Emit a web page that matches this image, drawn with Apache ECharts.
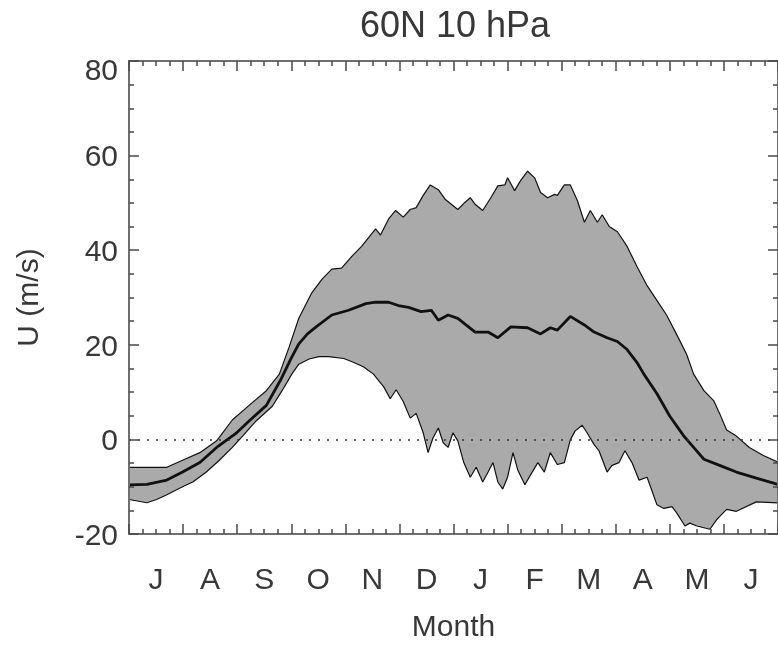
<!DOCTYPE html>
<html>
<head>
<meta charset="utf-8">
<script src="https://cdn.jsdelivr.net/npm/echarts@6/dist/echarts.min.js"></script>
<style>
  html, body { margin: 0; padding: 0; background: #ffffff; }
  #chart { width: 778px; height: 648px; }
</style>
</head>
<body>
<div id="chart"></div>
<script>
// Month letters, July through June (x positions are months since 1 July)
const monthLabels = ['J', 'A', 'S', 'O', 'N', 'D', 'J', 'F', 'M', 'A', 'M', 'J'];

// Zonal-mean zonal wind U (m/s) at 60N, 10 hPa: [month, value]
const upperEnvelope = [
  [0.00, -5.9], [0.35, -5.9], [0.70, -5.9], [0.99, -4.4], [1.31, -2.8], [1.62, -0.3],
  [1.91, 4.1], [2.22, 7.2], [2.54, 10.3], [2.78, 13.8], [2.96, 19.5], [3.14, 25.6],
  [3.38, 31.0], [3.57, 33.9], [3.75, 36.0], [3.93, 36.2], [4.12, 38.7], [4.30, 40.8],
  [4.56, 44.5], [4.65, 43.2], [4.80, 46.6], [4.93, 48.4], [5.07, 47.0], [5.20, 48.6],
  [5.31, 49.0], [5.44, 51.6], [5.57, 53.8], [5.72, 52.8], [5.85, 50.7], [6.08, 48.6],
  [6.21, 50.1], [6.31, 51.1], [6.40, 49.7], [6.54, 48.4], [6.69, 51.1], [6.82, 53.6],
  [6.95, 53.8], [7.00, 55.3], [7.13, 52.6], [7.24, 54.7], [7.37, 56.7], [7.50, 55.3],
  [7.61, 52.2], [7.74, 51.1], [7.87, 51.8], [7.92, 51.6], [8.05, 53.8], [8.16, 53.8],
  [8.29, 50.5], [8.42, 45.9], [8.53, 48.4], [8.66, 45.9], [8.75, 47.5], [8.88, 45.0],
  [9.03, 43.9], [9.21, 40.8], [9.39, 36.6], [9.58, 32.5], [9.76, 29.4], [9.94, 26.3],
  [10.13, 22.1], [10.31, 18.0], [10.44, 13.8], [10.63, 10.3], [10.81, 8.2], [10.92, 5.5],
  [11.05, 2.0], [11.23, 0.7], [11.47, -1.7], [11.73, -3.4], [12.00, -4.8]
];

const lowerEnvelope = [
  [0.00, -12.7], [0.33, -13.4], [0.51, -12.7], [0.70, -11.7], [0.99, -10.0], [1.18, -9.0],
  [1.43, -6.9], [1.67, -4.4], [1.91, -1.7], [2.10, 0.7], [2.35, 3.9], [2.65, 7.0],
  [2.83, 10.3], [3.01, 13.8], [3.14, 15.9], [3.33, 17.0], [3.51, 17.5], [3.69, 17.5],
  [3.97, 17.1], [4.15, 16.3], [4.34, 15.3], [4.52, 13.8], [4.71, 11.1], [4.83, 8.6],
  [4.94, 10.5], [5.07, 8.0], [5.20, 4.5], [5.31, 5.5], [5.44, 1.4], [5.53, -2.8],
  [5.62, 0.3], [5.72, 2.4], [5.81, -0.7], [5.90, -1.7], [5.99, 1.4], [6.08, -0.3],
  [6.19, -4.9], [6.31, -8.0], [6.42, -5.9], [6.54, -9.0], [6.64, -6.9], [6.73, -4.9],
  [6.82, -9.0], [6.91, -10.5], [7.00, -8.0], [7.10, -2.8], [7.19, -6.5], [7.32, -9.6],
  [7.43, -7.4], [7.56, -4.9], [7.68, -6.9], [7.79, -2.8], [7.92, -5.3], [8.05, -4.9],
  [8.16, -0.1], [8.25, 1.8], [8.38, 3.0], [8.47, 1.4], [8.60, -1.1], [8.69, -2.4],
  [8.84, -6.9], [8.93, -5.5], [9.06, -4.9], [9.17, -2.4], [9.30, -4.9], [9.43, -8.6],
  [9.58, -8.0], [9.76, -13.8], [9.89, -14.6], [10.04, -14.2], [10.13, -15.6], [10.28, -18.3],
  [10.37, -17.7], [10.50, -18.3], [10.74, -19.0], [10.87, -16.9], [11.05, -14.8], [11.23, -15.2],
  [11.60, -13.2], [12.00, -13.4]
];

const meanWind = [
  [0.00, -9.6], [0.33, -9.5], [0.70, -8.6], [0.99, -6.9], [1.31, -4.9], [1.62, -1.7],
  [1.99, 1.4], [2.22, 3.9], [2.54, 7.2], [2.80, 12.5], [3.00, 17.2], [3.14, 20.2],
  [3.30, 22.3], [3.46, 23.8], [3.75, 26.3], [4.06, 27.3], [4.38, 28.7], [4.56, 29.0],
  [4.80, 29.0], [4.98, 28.3], [5.17, 27.9], [5.40, 27.0], [5.59, 27.3], [5.72, 25.2],
  [5.90, 26.3], [6.08, 25.6], [6.40, 22.7], [6.64, 22.7], [6.82, 21.5], [7.06, 23.8],
  [7.37, 23.6], [7.61, 22.3], [7.79, 23.6], [7.92, 23.1], [8.16, 26.0], [8.42, 24.2],
  [8.60, 22.7], [8.84, 21.5], [9.03, 20.7], [9.21, 19.0], [9.39, 16.3], [9.52, 13.8],
  [9.76, 9.7], [10.00, 4.9], [10.26, 0.7], [10.44, -1.7], [10.63, -4.2], [10.92, -5.5],
  [11.23, -6.9], [11.60, -8.2], [12.00, -9.5]
];

// Axis ranges
const uMin = -20, uMax = 80, uStep = 20;
const monthMin = 0, monthMax = 12, monthStep = 1;

const fontFamily = "'Liberation Sans', Arial, sans-serif";
const textColor = '#383838';
const axisColor = '#6f6f6f';
const tickColor = '#4a4a4a';

function frameAxis(extra) {
  return Object.assign({
    axisLine: { show: true, onZero: false, lineStyle: { color: axisColor, width: 2 } },
    axisTick: { show: true, inside: true, length: 10, lineStyle: { color: tickColor, width: 1.5 } },
    minorTick: { show: true, splitNumber: 4, length: 5, lineStyle: { color: tickColor, width: 1.5 } },
    splitLine: { show: false },
    minorSplitLine: { show: false },
    z: 10
  }, extra);
}

const chart = echarts.init(document.getElementById('chart'), null, { renderer: 'canvas' });

chart.setOption({
  animation: false,
  backgroundColor: '#ffffff',
  title: {
    text: '60N 10 hPa',
    left: 450,
    top: 4,
    textAlign: 'center',
    textStyle: { fontFamily, fontSize: 36, fontWeight: 'normal', color: textColor }
  },
  grid: { left: 129, right: -4, top: 61, bottom: 105, containLabel: false },
  xAxis: [
    frameAxis({
      type: 'value', min: monthMin, max: monthMax, interval: monthStep, position: 'bottom',
      axisLabel: { show: false },
      name: 'Month', nameLocation: 'middle', nameGap: 79,
      nameTextStyle: { fontFamily, fontSize: 30, color: textColor }
    }),
    frameAxis({
      type: 'value', min: monthMin, max: monthMax, interval: monthStep, position: 'top',
      axisLabel: { show: false }
    }),
    {
      type: 'category', data: monthLabels, boundaryGap: true, position: 'bottom',
      axisLine: { show: false }, axisTick: { show: false }, splitLine: { show: false },
      axisLabel: { margin: 32, fontFamily, fontSize: 30, color: textColor }
    }
  ],
  yAxis: [
    frameAxis({
      type: 'value', min: uMin, max: uMax, interval: uStep, position: 'left',
      axisLabel: {
        margin: 11, fontFamily, fontSize: 30, color: textColor,
        formatter: v => (v === uMax ? '{top|' + v + '}' : '{n|' + v + '}'),
        rich: {
          n: { fontFamily, fontSize: 30, color: textColor, padding: [5, 0, 0, 0] },
          top: { fontFamily, fontSize: 30, color: textColor, padding: [22, 0, 0, 0] }
        }
      },
      name: 'U (m/s)', nameLocation: 'middle', nameGap: 84, nameRotate: 90,
      nameTextStyle: { fontFamily, fontSize: 30, color: textColor }
    }),
    frameAxis({
      type: 'value', min: uMin, max: uMax, interval: uStep, position: 'right',
      axisLabel: { show: false }
    })
  ],
  series: [
    {
      name: 'Maximum',
      type: 'line', xAxisIndex: 0, yAxisIndex: 0,
      data: upperEnvelope, symbol: 'none', smooth: false,
      lineStyle: { color: '#111111', width: 1.2 },
      areaStyle: { color: '#aaaaaa', opacity: 1, origin: 'start' },
      z: 2
    },
    {
      name: 'Minimum',
      type: 'line', xAxisIndex: 0, yAxisIndex: 0,
      data: lowerEnvelope, symbol: 'none', smooth: false,
      lineStyle: { color: '#111111', width: 1.2 },
      areaStyle: { color: '#ffffff', opacity: 1, origin: 'start' },
      z: 3
    },
    {
      name: 'Mean',
      type: 'line', xAxisIndex: 0, yAxisIndex: 0,
      data: meanWind, symbol: 'none', smooth: false,
      lineStyle: { color: '#111111', width: 2.8 },
      z: 4,
      markLine: {
        silent: true, symbol: 'none', label: { show: false },
        lineStyle: { color: '#333333', width: 1.5, type: [2, 7] },
        data: [{ yAxis: 0 }]
      }
    }
  ]
});
</script>
</body>
</html>
